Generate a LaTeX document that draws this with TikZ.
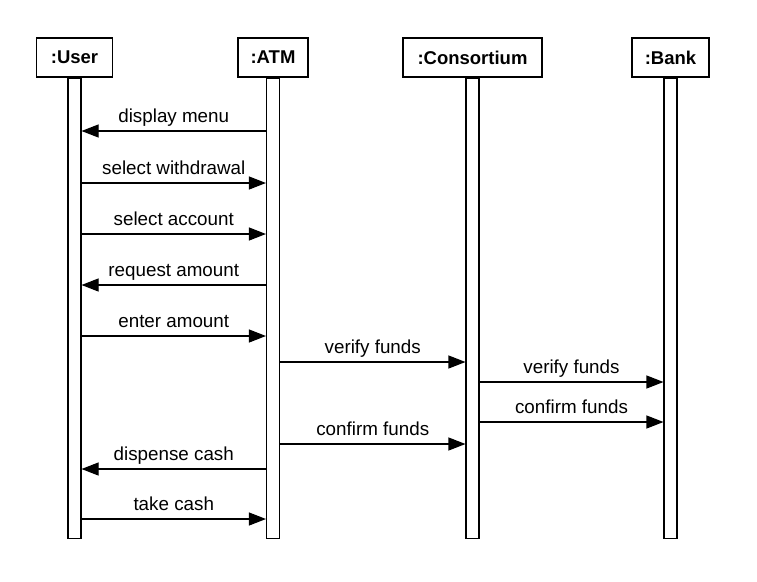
\documentclass[tikz,border=0pt]{standalone}
\usepackage{fontspec}
\setmainfont{Liberation Sans}
\usetikzlibrary{arrows.meta}
\begin{document}
\begin{tikzpicture}[x=1pt,y=-1pt,
  head/.style={draw,line width=1.2pt,minimum height=39pt,inner sep=0pt,font=\fontsize{18.5}{20}\selectfont\bfseries},
  bar/.style={draw,line width=1.1pt,minimum width=13pt,minimum height=460pt,inner sep=0pt,anchor=north},
  msg/.style={line width=1.1pt,-{Triangle[length=17pt,width=13pt]}},
  lbl/.style={font=\fontsize{18.8}{20}\selectfont,inner sep=0pt,anchor=base,yshift=9pt}]
\useasboundingbox (0,0) rectangle (757,581);
% heads
\node[head,minimum width=76pt] (user) at (74.5,57.5) {:User};
\node[head,minimum width=70pt] (atm) at (273,57.5) {:ATM};
\node[head,minimum width=139pt] (cons) at (472.5,57.5) {:Consortium};
\node[head,minimum width=77pt] (bank) at (670.5,57.5) {:Bank};
% lifeline bars
\node[bar] (ub) at (user.south) {};
\node[bar] (ab) at (atm.south) {};
\node[bar] (cb) at (cons.south) {};
\node[bar] (bb) at (bank.south) {};
% messages
\draw[msg] (ab.west |- 0,131) -- node[lbl] {display menu} (ub.east |- 0,131);
\draw[msg] (ub.east |- 0,183) -- node[lbl] {select withdrawal} (ab.west |- 0,183);
\draw[msg] (ub.east |- 0,234) -- node[lbl] {select account} (ab.west |- 0,234);
\draw[msg] (ab.west |- 0,285) -- node[lbl] {request amount} (ub.east |- 0,285);
\draw[msg] (ub.east |- 0,336) -- node[lbl] {enter amount} (ab.west |- 0,336);
\draw[msg] (ab.east |- 0,362) -- node[lbl] {verify funds} (cb.west |- 0,362);
\draw[msg] (cb.east |- 0,382) -- node[lbl] {verify funds} (bb.west |- 0,382);
\draw[msg] (cb.east |- 0,422) -- node[lbl] {confirm funds} (bb.west |- 0,422);
\draw[msg] (ab.east |- 0,444) -- node[lbl] {confirm funds} (cb.west |- 0,444);
\draw[msg] (ab.west |- 0,469) -- node[lbl] {dispense cash} (ub.east |- 0,469);
\draw[msg] (ub.east |- 0,519) -- node[lbl] {take cash} (ab.west |- 0,519);
\end{tikzpicture}
\end{document}
